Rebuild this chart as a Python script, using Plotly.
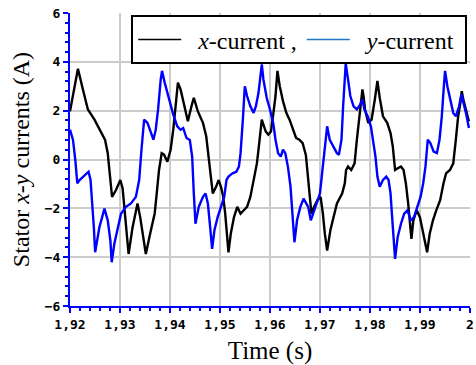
import plotly.graph_objects as go

# ---- data ----
x_time = [1.9200, 1.92159, 1.92258, 1.92358, 1.9249, 1.92623, 1.92702, 1.92755, 1.92808, 1.92841,
          1.9292, 1.93007, 1.93053, 1.9310, 1.93139, 1.93172, 1.93252, 1.93351, 1.93404, 1.93457,
          1.93517, 1.93603, 1.93695, 1.93735, 1.93781, 1.93834, 1.93881, 1.93947, 1.94013, 1.94066,
          1.94113, 1.94159, 1.94212, 1.94291, 1.94358, 1.9443, 1.94477, 1.94556,
          1.9466, 1.94725, 1.94778, 1.94824, 1.94856, 1.94922, 1.94974, 1.9502, 1.95065, 1.95105,
          1.95137, 1.9517, 1.95216, 1.95281, 1.95346, 1.95412, 1.95477, 1.95542, 1.95608, 1.95673,
          1.95739, 1.95771, 1.95804, 1.95837, 1.95869, 1.95915, 1.95967, 1.9602, 1.96065, 1.96111,
          1.9615, 1.96196, 1.96261, 1.96327, 1.96392, 1.96458, 1.96523, 1.96588, 1.96654, 1.96719,
          1.96765, 1.96804, 1.9683, 1.96882, 1.96948, 1.97013, 1.97059, 1.97098, 1.97144, 1.97209,
          1.97275, 1.9734,
          1.97444, 1.97497, 1.97523, 1.97562, 1.97627, 1.97693, 1.97739, 1.97784, 1.97824, 1.9785,
          1.97876, 1.97902, 1.97967, 1.98033, 1.98098, 1.9815, 1.98196, 1.98261, 1.98346, 1.98412,
          1.98458, 1.98503, 1.98556, 1.98621, 1.98673, 1.98719, 1.98765, 1.98804, 1.9883, 1.98869,
          1.98935, 1.99, 1.99052, 1.99111, 1.99144, 1.99196, 1.99261, 1.99327, 1.99405, 1.99471,
          1.99523, 1.99601, 1.99667, 1.99719, 1.99765, 1.9981, 1.99837, 1.99876, 1.99928, 1.9998]
x_current = [1.98, 3.72, 2.87, 2.05, 1.63, 1.08, 0.8, 0.26, -0.84, -1.53,
             -1.25, -0.84, -1.19, -2.2, -3.04, -3.87, -2.77, -1.8, -2.36, -3.17,
             -3.87, -3.04, -2.2, -1.39, -0.43, 0.26, 0.2, -0.09, 0.4, 1.22,
             2.18, 3.15, 2.87, 2.12, 1.57, 2.18, 2.53, 1.98,
             1.5, 0.95, -0.02, -0.7, -1.39, -1.12, -0.84, -1.12, -1.53, -2.22,
             -3.04, -3.8, -3.04, -2.36, -1.94, -2.22, -2.08, -1.94, -1.53, -0.84,
             -0.16, 0.4, 1.08, 1.63, 1.43, 1.15, 1.02, 1.15, 1.84, 2.6,
             3.63, 3.0, 2.39, 1.91, 1.63, 1.22, 0.88, 0.81, 0.67, 0.18,
             -0.84, -1.67, -2.22, -1.94, -1.67, -1.53, -2.22, -3.04, -3.73, -2.9,
             -2.36, -1.8,
             -1.39, -0.98, -0.43, -0.29, -0.43, -0.16, 0.81, 1.77, 2.32, 2.87,
             2.53, 2.05, 1.5, 1.63, 2.46, 3.22, 2.53, 1.77, 1.5, 1.08,
             0.53, -0.43, -0.36, -0.29, -0.43, -0.98, -1.8, -2.63, -3.25, -2.49,
             -2.08, -2.36, -2.9, -3.46, -3.8, -3.04, -2.49, -2.08, -1.67, -0.98,
             -0.57, -0.43, -0.16, 0.81, 1.77, 2.32, 2.8, 2.39, 1.91, 1.57]

y_time = [1.9200, 1.9206, 1.92106, 1.92146, 1.92192, 1.92258, 1.92325, 1.92371, 1.92411, 1.92444,
          1.92477, 1.92503, 1.92589, 1.92689, 1.92755, 1.92808, 1.92834, 1.92887, 1.92954, 1.9302,
          1.93119, 1.93219, 1.93318, 1.93384, 1.9343, 1.93483, 1.9355, 1.93616, 1.93669, 1.93715,
          1.93762, 1.93815, 1.93841, 1.93894, 1.9398, 1.94066, 1.94146, 1.94212, 1.94265, 1.94331,
          1.94397, 1.94444, 1.94477, 1.9451, 1.94576,
          1.9466, 1.94712, 1.94758, 1.94804, 1.94843, 1.94889, 1.94954, 1.9502, 1.95085, 1.95131,
          1.9517, 1.95248, 1.95327, 1.95379, 1.95412, 1.95458, 1.95497, 1.95542, 1.95608, 1.95673,
          1.95719, 1.95771, 1.9581, 1.95837, 1.95869, 1.95935, 1.96, 1.96065, 1.96111, 1.96163,
          1.96216, 1.96261, 1.96307, 1.96359, 1.96412, 1.96458, 1.9649, 1.96542, 1.96608, 1.96673,
          1.96719, 1.96765, 1.96817, 1.96869, 1.96935, 1.97, 1.97046, 1.97092, 1.97144, 1.97196,
          1.97261, 1.9734,
          1.97379, 1.97431, 1.97464, 1.97497, 1.97516, 1.97562, 1.97608, 1.97673, 1.97739, 1.97804,
          1.9785, 1.97889, 1.97954, 1.9802, 1.98065, 1.98111, 1.9815, 1.98196, 1.98261, 1.98327,
          1.98373, 1.98412, 1.98458, 1.98503, 1.98556, 1.98621, 1.98686, 1.98752, 1.98817, 1.98882,
          1.98948, 1.99013, 1.99065, 1.99111, 1.99157, 1.99209, 1.99275, 1.9934, 1.99392, 1.99438,
          1.99484, 1.99503, 1.99549, 1.99601, 1.99667, 1.99719, 1.99784, 1.9983, 1.99876, 1.99928,
          1.9998]
y_current = [1.22, 0.8, -0.02, -0.98, -0.84, -0.7, -0.57, -0.5, -0.84, -1.67,
             -2.77, -3.8, -2.77, -2.01, -2.49, -3.32, -4.21, -3.45, -2.77, -2.22,
             -1.94, -1.8, -1.53, -0.84, 0.4, 1.63, 1.5, 1.15, 0.81, 1.22,
             2.05, 3.28, 3.63, 3.15, 2.46, 1.84, 1.36, 1.22, 1.29, 0.88,
             0.8, 0.12, -1.39, -2.63, -1.94,
             -1.53, -1.39, -1.8, -2.77, -3.66, -2.9, -2.36, -1.94, -1.53, -0.84,
             -0.7, -0.57, -0.5, -0.29, 0.26, 1.63, 3.0, 2.6, 2.18, 1.91,
             2.18, 2.73, 3.56, 3.9, 3.28, 2.53, 2.05, 1.5, 0.81, 0.26,
             0.12, 0.4, 0.26, -0.29, -1.12, -2.36, -3.39, -2.49, -1.94, -1.6,
             -1.8, -1.94, -2.49, -2.22, -1.8, -1.39, -0.57, 0.4, 1.36, 0.81,
             0.53, 0.26,
             0.19, 0.81, 2.18, 3.28, 3.94, 3.28, 2.6, 2.18, 2.05, 2.25,
             2.46, 2.05, 1.77, 1.36, 0.81, 0.12, -0.7, -1.12, -0.84, -0.7,
             -0.84, -1.39, -2.77, -4.07, -3.17, -2.63, -2.22, -2.08, -2.49, -2.36,
             -1.94, -1.53, -0.98, -0.29, 0.81, 0.67, 0.32, 0.26, 0.81, 1.77,
             3.15, 3.63, 3.0, 2.46, 1.91, 1.77, 2.18, 2.67, 2.32, 1.84,
             1.29]

x_tick_vals = [1.92, 1.93, 1.94, 1.95, 1.96, 1.97, 1.98, 1.99, 2.0]
x_tick_text = ["1,92", "1,93", "1,94", "1,95", "1,96", "1,97", "1,98", "1,99", "2"]
y_tick_vals = [-6, -4, -2, 0, 2, 4, 6]
y_tick_text = ["\u22126", "\u22124", "\u22122", "0", "2", "4", "6"]

AXIS_BLUE = "#0000ff"
GRID = "#cccccc"
SERIF = "Liberation Serif, Times New Roman, serif"
TICKFONT = dict(family="DejaVu Sans Mono", size=13, color="black", weight="bold")
NB = "\u00a0"

fig = go.Figure()
fig.add_trace(go.Scatter(x=x_time, y=x_current, mode="lines",
                         line=dict(color="black", width=2.4), showlegend=False))
fig.add_trace(go.Scatter(x=y_time, y=y_current, mode="lines",
                         line=dict(color="#0000ff", width=2.4), showlegend=False))
# legend entries
fig.add_trace(go.Scatter(x=[None], y=[None], mode="lines", name=NB * 2 + "<i>x</i>-current ,",
                         line=dict(color="black", width=1.5)))
fig.add_trace(go.Scatter(x=[None], y=[None], mode="lines", name=NB * 2 + "<i>y</i>-current" + NB,
                         line=dict(color="#1f78c8", width=1.5)))

fig.update_layout(
    width=476, height=365,
    margin=dict(l=70, r=2, t=13, b=59),
    paper_bgcolor="white", plot_bgcolor="white",
    showlegend=True,
    legend=dict(orientation="h", x=0.993, xanchor="right", y=0.992, yanchor="top",
                bgcolor="white", bordercolor="black", borderwidth=2,
                font=dict(family=SERIF, size=24, color="black"),
                itemwidth=43, tracegroupgap=0),
    xaxis=dict(range=[1.92, 2.00002], tickvals=x_tick_vals, ticktext=x_tick_text,
               showgrid=True, gridcolor=GRID, gridwidth=1.5, zeroline=False,
               showline=True, linecolor=AXIS_BLUE, linewidth=2,
               ticks="outside", ticklen=5, tickcolor=AXIS_BLUE, tickwidth=1.5,
               minor=dict(dtick=0.002, ticks="outside", ticklen=3, tickcolor=AXIS_BLUE, showgrid=False),
               tickfont=TICKFONT, ticklabeloverflow="allow",
               title=dict(text="Time (s)", font=dict(family=SERIF, size=25, color="black"), standoff=12)),
    yaxis=dict(range=[-6, 6], tickvals=y_tick_vals, ticktext=y_tick_text,
               showgrid=True, gridcolor=GRID, gridwidth=1.5, zeroline=False,
               showline=True, linecolor=AXIS_BLUE, linewidth=2,
               ticks="outside", ticklen=5, tickcolor=AXIS_BLUE, tickwidth=1.5,
               minor=dict(dtick=0.4, ticks="outside", ticklen=3, tickcolor=AXIS_BLUE, showgrid=False),
               tickfont=TICKFONT,
               title=dict(text="Stator <i>x</i>-<i>y</i> currents (A)",
                          font=dict(family=SERIF, size=24, color="black"), standoff=8)),
)

fig.write_html("out.html")
